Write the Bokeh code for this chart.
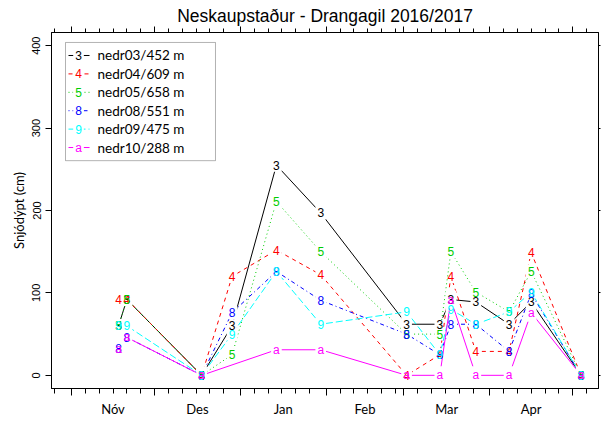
import pandas as pd
from bokeh.plotting import figure
from bokeh.models import (FixedTicker, DatetimeAxis, LinearAxis, BoxAnnotation,
                          ColumnDataSource, Range1d, CustomLabelingPolicy)
from bokeh.core.properties import value
from bokeh.embed import file_html
from bokeh.resources import INLINE

title_text = "Neskaupstaður - Drangagil 2016/2017"
y_label = "Snjódýpt (cm)"

dates = ["2016-11-18", "2016-11-21", "2016-12-18", "2016-12-29", "2017-01-14",
         "2017-01-30", "2017-03-02", "2017-03-14", "2017-03-18", "2017-03-27",
         "2017-04-08", "2017-04-16", "2017-05-04"]

nedr03 = [60, 92, 0, 60, 255, 197, 62, 62, 92, 89, 62, 89, 0]
nedr04 = [92, 92, 0, 120, 152, 122, 0, 25, 120, 29, 29, 149, 0]
nedr05 = [60, 92, 0, 25, 211, 150, 50, 50, 150, 101, 77, 126, 0]
nedr08 = [32, 46, 0, 76, 126, 91, 50, 25, 62, 62, 29, 99, 0]
nedr09 = [60, 60, 0, 50, 126, 62, 77, 25, 80, 62, 77, 101, 0]
nedr10 = [32, 46, 0, None, 31, 31, 0, 0, 92, 0, 0, 76, 0]

series_names = ["nedr03/452 m", "nedr04/609 m", "nedr05/658 m",
                "nedr08/551 m", "nedr09/475 m", "nedr10/288 m"]
point_chars = ["3", "4", "5", "8", "9", "a"]
colors = ["#000000", "#FF0000", "#00CD00", "#0000FF", "#00FFFF", "#FF00FF"]
dashes = ["solid", "4 4", "1 3", "1 3 4 3", "7 3", "solid"]

month_labels = ["Nóv", "Des", "Jan", "Feb", "Mar", "Apr"]
y_ticks = [0, 100, 200, 300, 400]

series = [nedr03, nedr04, nedr05, nedr08, nedr09, nedr10]


def ms(t):
    return float(pd.Timestamp(t).value // 10**6)


x_start = ms("2016-10-24 19:00")
x_end = ms("2017-05-10 07:00")
y_start, y_end = -16, 416

month_starts = pd.date_range("2016-11-01", "2017-05-01", freq="MS")
month_start_ms = [ms(m) for m in month_starts]
mid_ms = [(ms(a) + ms(b)) / 2 for a, b in zip(month_starts[:-1], month_starts[1:])]
five_day_ms = []
for m in pd.date_range("2016-10-01", "2017-05-01", freq="MS"):
    for d in (6, 11, 16, 21, 26):
        v = ms(pd.Timestamp(year=m.year, month=m.month, day=d))
        if x_start <= v <= x_end:
            five_day_ms.append(v)

hide_js = """
if (typeof indices.clear === 'function') { indices.clear(); return indices }
for (const i of Array.from(indices)) { indices.unset(i) }
return indices
"""


def no_labels(ticks):
    return dict(major_label_policy=CustomLabelingPolicy(code=hide_js),
                major_label_overrides={t: "" for t in ticks},
                major_label_text_font_size="1px", major_label_standoff=0)


p = figure(width=601, height=427, x_axis_type="datetime",
           x_range=Range1d(x_start, x_end), y_range=Range1d(y_start, y_end),
           output_backend="svg", toolbar_location=None,
           min_border_left=51, min_border_right=3, min_border_top=32, min_border_bottom=39)
p.xgrid.visible = False
p.ygrid.visible = False
p.outline_line_color = "black"
p.background_fill_color = "white"

p.title.text = title_text
p.title.align = "center"
p.title.text_font = "Liberation Sans"
p.title.text_font_size = "17.5px"
p.title.text_font_style = "normal"
p.title.text_color = "black"
p.title.standoff = 2

# bottom tick axis (month starts long, 5-day ticks short)
xb = p.xaxis[0]
xb.ticker = FixedTicker(ticks=month_start_ms, minor_ticks=five_day_ms)
xb.major_tick_out = 7
xb.major_tick_in = 0
xb.minor_tick_out = 5
xb.minor_tick_in = 0
for k, v in no_labels(month_start_ms).items():
    setattr(xb, k, v)
xb.axis_line_color = "black"
xb.major_tick_line_color = "black"
xb.minor_tick_line_color = "black"

# bottom month-name axis
xlab = DatetimeAxis(ticker=FixedTicker(ticks=mid_ms),
                    major_tick_out=0, major_tick_in=0, minor_tick_out=0, minor_tick_in=0,
                    axis_line_color=None, major_tick_line_color=None, minor_tick_line_color=None,
                    major_label_overrides={t: lab for t, lab in zip(mid_ms, month_labels)},
                    major_label_standoff=5,
                    major_label_text_font="Lato", major_label_text_font_size="13px",
                    major_label_text_color="black")
p.add_layout(xlab, "below")

# top tick axis
xt = DatetimeAxis(ticker=FixedTicker(ticks=month_start_ms, minor_ticks=five_day_ms),
                  major_tick_out=6, major_tick_in=0, minor_tick_out=4, minor_tick_in=0,
                  axis_line_color="black", major_tick_line_color="black",
                  minor_tick_line_color="black", **no_labels(month_start_ms))
p.add_layout(xt, "above")

# left axis
yl = p.yaxis[0]
yl.ticker = FixedTicker(ticks=y_ticks)
yl.major_tick_out = 6
yl.major_tick_in = 0
yl.minor_tick_out = 0
yl.minor_tick_in = 0
yl.major_label_orientation = "vertical"
yl.major_label_text_font = "Liberation Sans"
yl.major_label_text_font_size = "11px"
yl.major_label_text_color = "black"
yl.major_label_standoff = 5
yl.axis_label = y_label
yl.axis_label_text_font = "Lato"
yl.axis_label_text_font_size = "13px"
yl.axis_label_text_font_style = "normal"
yl.axis_label_text_color = "black"
yl.axis_label_standoff = 3
yl.axis_line_color = "black"

# right axis (ticks only)
yr = LinearAxis(ticker=FixedTicker(ticks=y_ticks), major_tick_out=2, major_tick_in=0,
                minor_tick_out=0, minor_tick_in=0, axis_line_color="black",
                **no_labels(y_ticks))
p.add_layout(yr, "right")

label_kw = dict(text_font=value("Liberation Sans"), text_font_size="12px",
                text_align="center", text_baseline="middle")

sources = []
for vals, col, dash, ch in zip(series, colors, dashes, point_chars):
    xs = [ms(d) for d, v in zip(dates, vals) if v is not None]
    ys = [v for v in vals if v is not None]
    src = ColumnDataSource(dict(x=xs, y=ys, t=[ch] * len(ys)))
    sources.append(src)
    p.line("x", "y", source=src, line_color=col, line_dash=dash, line_width=1)
    p.text("x", "y", text="t", source=src, text_alpha=0,
           background_fill_color="white", padding=2, **label_kw)

for src, col in zip(sources, colors):
    p.text("x", "y", text="t", source=src, text_color=col, **label_kw)


# legend (manual, R style), placed by fractions of the plot area
def fx(f):
    return x_start + f * (x_end - x_start)


def fy(f):
    return y_end - f * (y_end - y_start)


p.add_layout(BoxAnnotation(left=fx(0.0256), right=fx(0.2998), top=fy(0.028), bottom=fy(0.360),
                           fill_color="white", fill_alpha=1, line_color="black",
                           line_width=1, level="underlay"))
row0, step = 0.0646, 0.0517
for i, (name, col, dash, ch) in enumerate(zip(series_names, colors, dashes, point_chars)):
    yy = fy(row0 + i * step)
    src = ColumnDataSource(dict(x0=[fx(0.0311)], x1=[fx(0.0695)], xc=[fx(0.0494)],
                                xt=[fx(0.0841)], y=[yy], t=[ch], n=[name]))
    p.segment("x0", "y", "x1", "y", source=src, line_color=col, line_dash=dash, line_width=1)
    p.text("xc", "y", text="t", source=src, text_alpha=0,
           background_fill_color="white", padding=2, **label_kw)
    p.text("xc", "y", text="t", source=src, text_color=col, **label_kw)
    p.text("xt", "y", text="n", source=src, text_color="black",
           text_font=value("Lato"), text_font_size="13.5px",
           text_align="left", text_baseline="middle")

open("out.html", "w").write(file_html(p, INLINE))
